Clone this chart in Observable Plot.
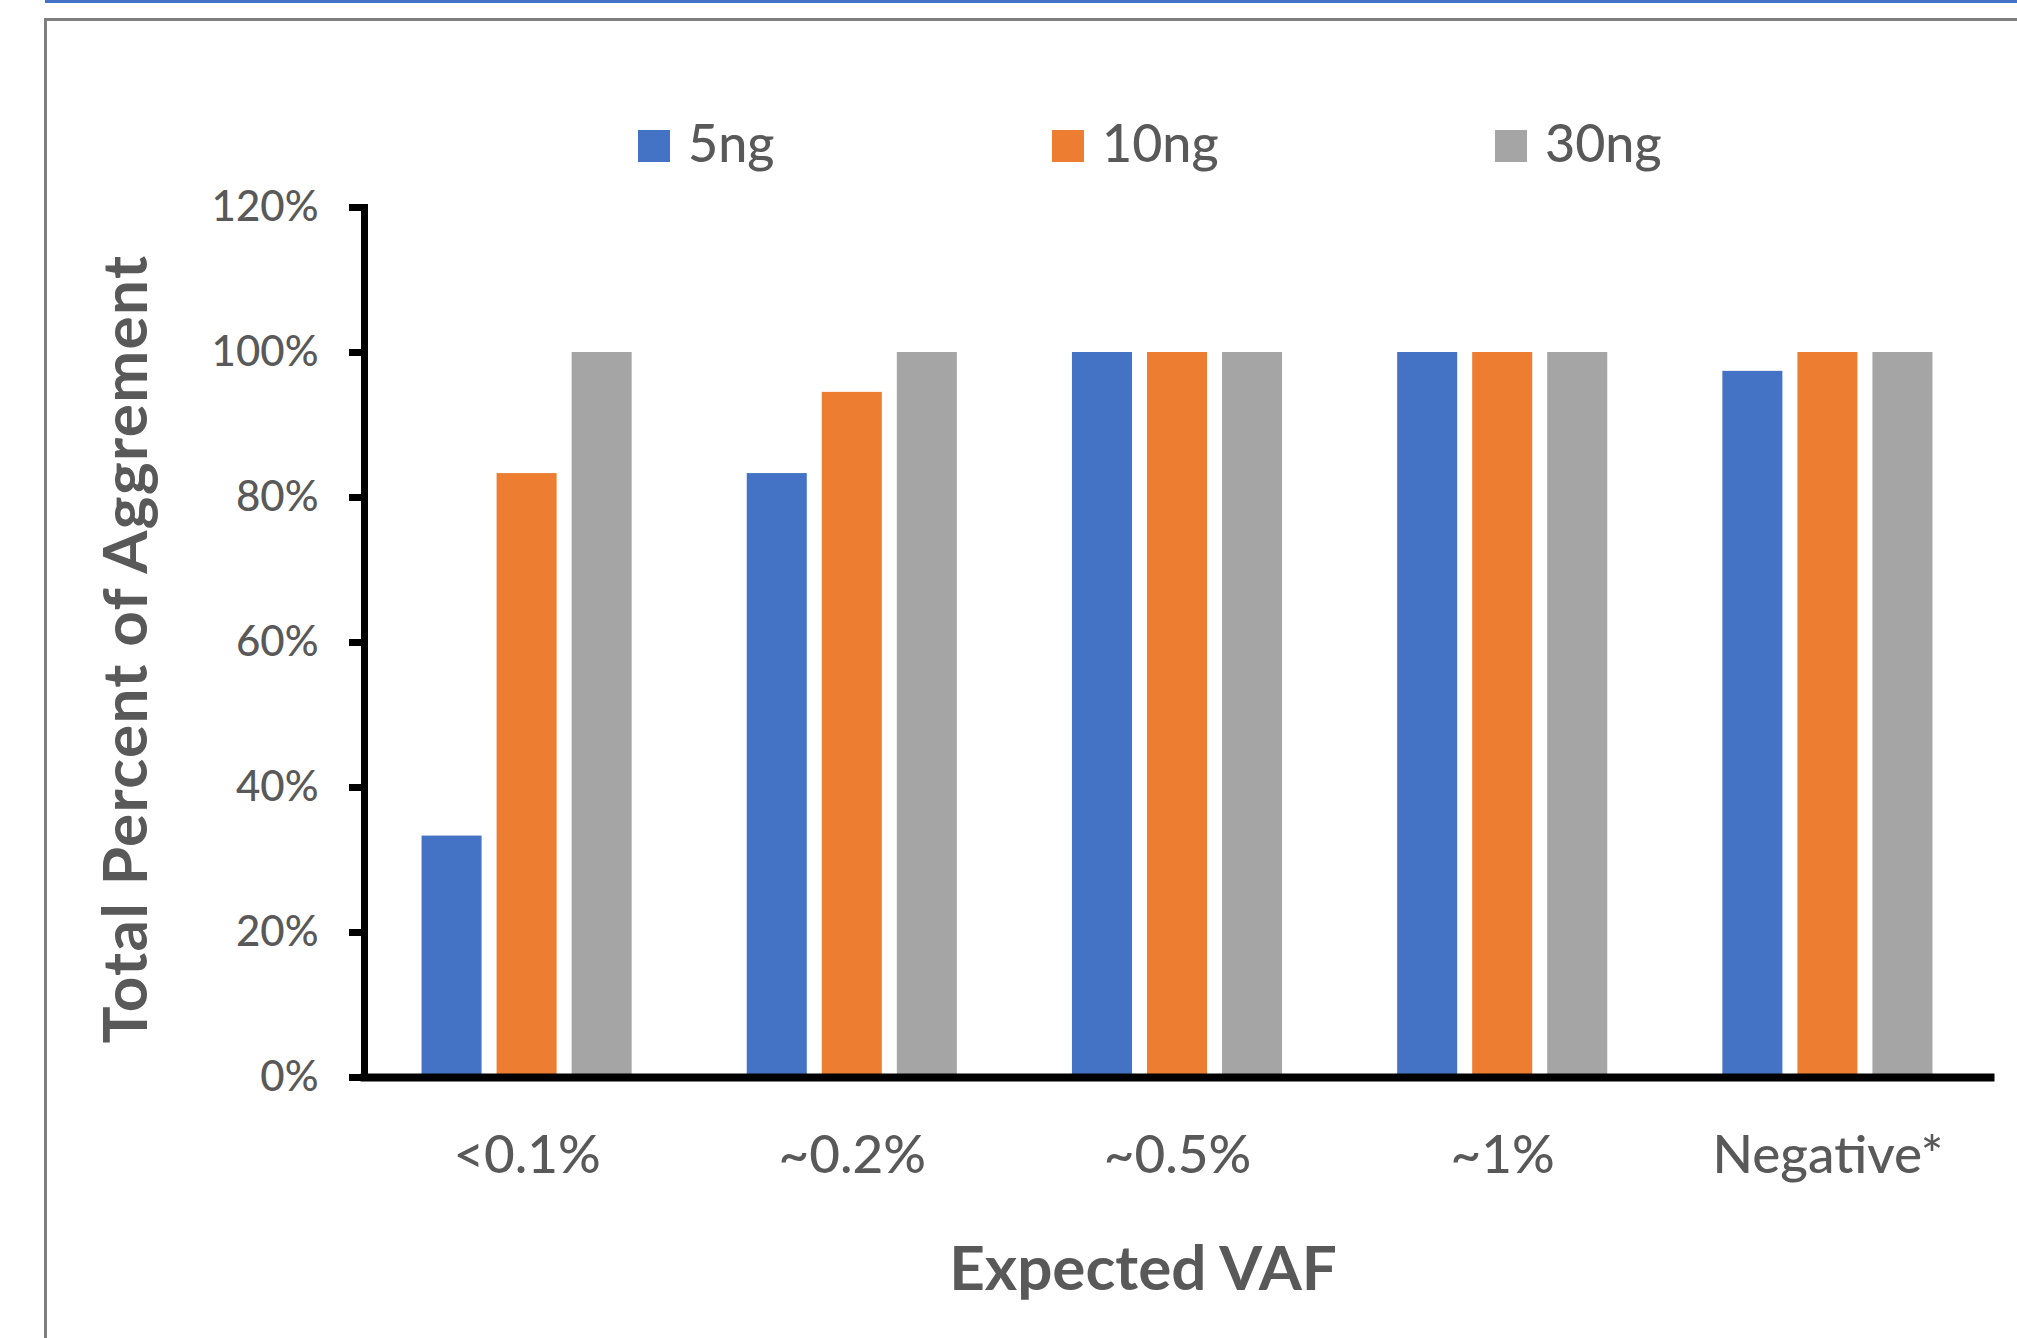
<!DOCTYPE html>
<html>
<head>
<meta charset="utf-8">
<script src="https://cdn.jsdelivr.net/npm/d3@7"></script>
<script src="https://cdn.jsdelivr.net/npm/@observablehq/plot@0.6"></script>
<style>
  html, body { margin: 0; padding: 0; background: #fff; }
  body { width: 2017px; height: 1338px; position: relative; overflow: hidden; font-family: Lato, "Open Sans", sans-serif; }
  #topline { position: absolute; left: 45px; top: 0; right: 0; height: 3px; background: #4472C4; }
  #frame { position: absolute; left: 44px; top: 18px; right: -20px; bottom: -20px; border-left: 3px solid #7f7f7f; border-top: 3px solid #7f7f7f; }
  #chart { position: absolute; left: 0; top: 0; }
  #chart svg { display: block; }
  .legend-item { position: absolute; top: 116px; height: 52px; }
  .legend-item .sw { position: absolute; left: 0; top: 14px; width: 32px; height: 32px; }
  .legend-item .lb { position: absolute; left: 50px; top: 0; font-size: 52px; line-height: 52px; font-weight: 500; color: #595959; white-space: nowrap; }
  .title { position: absolute; font-weight: 700; font-size: 62px; line-height: 62px; color: #595959; white-space: nowrap; transform: translate(-50%, -50%); }
  #ytitle { left: 123px; top: 649px; letter-spacing: 1.4px; transform: translate(-50%, -50%) rotate(-90deg); }
  #xtitle { left: 1143px; top: 1266px; }
</style>
</head>
<body>
<div id="topline"></div>
<div id="frame"></div>
<div id="chart"></div>
<div id="legend"></div>
<div class="title" id="ytitle">Total Percent of Aggrement</div>
<div class="title" id="xtitle">Expected VAF</div>
<script>
const categories = ["<0.1%", "~0.2%", "~0.5%", "~1%", "Negative*"];
const series = ["5ng", "10ng", "30ng"];
const colors = ["#4472C4", "#ED7D31", "#A5A5A5"];
const values5ng = [33.3, 83.3, 100, 100, 97.4];
const values10ng = [83.3, 94.5, 100, 100, 100];
const values30ng = [100, 100, 100, 100, 100];
const yTicks = [0, 20, 40, 60, 80, 100, 120];
const legendX = [638, 1052, 1495];

const seriesValues = [values5ng, values10ng, values30ng];
const data = [];
categories.forEach((c, i) => {
  series.forEach((s, j) => {
    data.push({cat: c, series: s, value: seriesValues[j][i]});
  });
});

const chart = Plot.plot({
  width: 2017,
  height: 1338,
  marginLeft: 364,
  marginRight: 27,
  marginTop: 207,
  marginBottom: 261,
  style: {fontFamily: "Lato, 'Open Sans', sans-serif", background: "transparent", overflow: "visible"},
  fx: {domain: categories, padding: 0, round: false, axis: null, label: null},
  x: {domain: series, paddingInner: 0.2, paddingOuter: 0.767, round: false, axis: null},
  y: {domain: [0, 120], axis: null},
  color: {domain: series, range: colors},
  marks: [
    Plot.barY(data, {fx: "cat", x: "series", y: "value", fill: "series"}),
    Plot.frame({anchor: "bottom", facet: "super", stroke: "black", strokeWidth: 8}),
    Plot.frame({anchor: "left", facet: "super", stroke: "black", strokeWidth: 7}),
    Plot.axisY({
      ticks: yTicks,
      tickFormat: d => d + "%",
      tickSize: 15,
      tickPadding: 31,
      strokeWidth: 7,
      stroke: "black",
      fill: "#595959",
      fontSize: 42,
      fontWeight: 500,
      label: null
    }),
    Plot.axisFx({
      anchor: "bottom",
      tickSize: 0,
      tickPadding: 58,
      fontSize: 53,
      fontWeight: 500,
      fill: "#595959",
      label: null
    })
  ]
});
document.getElementById("chart").appendChild(chart);

const legend = document.getElementById("legend");
series.forEach((s, i) => {
  const item = document.createElement("div");
  item.className = "legend-item";
  item.style.left = legendX[i] + "px";
  const sw = document.createElement("div");
  sw.className = "sw";
  sw.style.background = colors[i];
  const lb = document.createElement("div");
  lb.className = "lb";
  lb.textContent = s;
  item.appendChild(sw);
  item.appendChild(lb);
  legend.appendChild(item);
});
</script>
</body>
</html>
